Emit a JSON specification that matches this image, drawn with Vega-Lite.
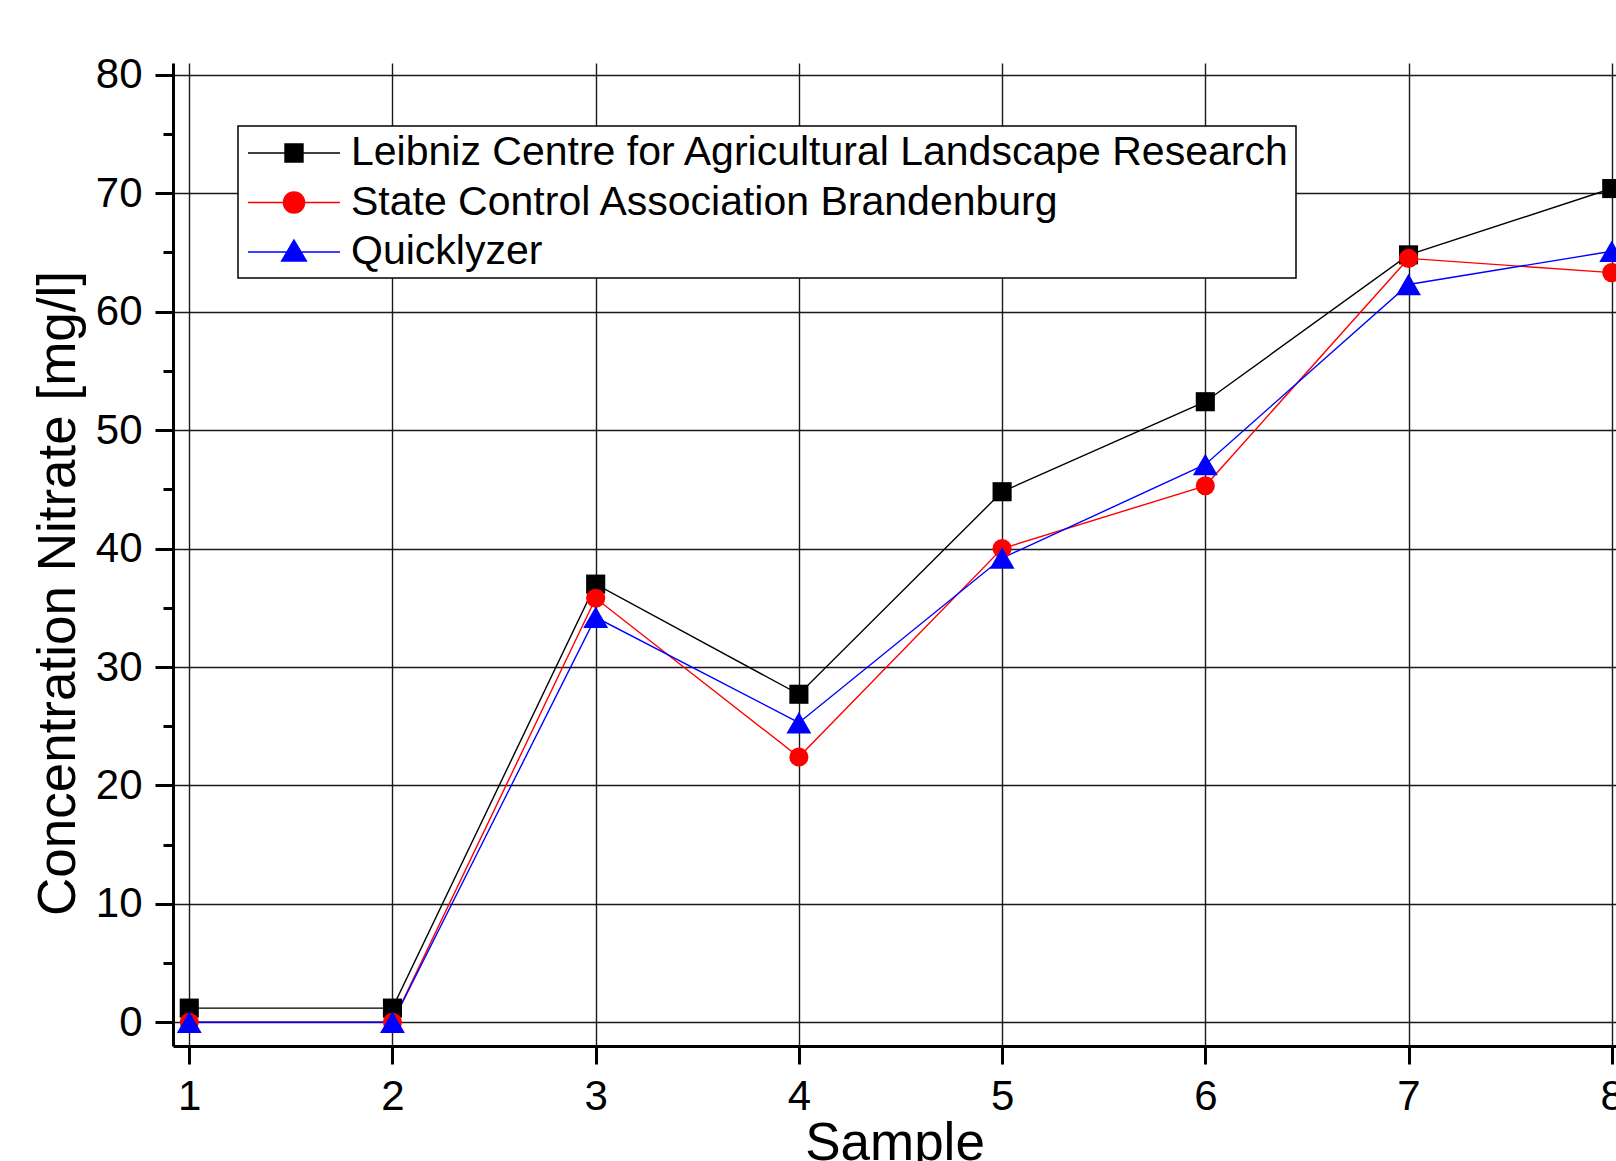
{
  "$schema": "https://vega.github.io/schema/vega-lite/v6.json",
  "width": 1443,
  "height": 983,
  "autosize": "none",
  "padding": {"left": 173, "top": 63, "right": 0, "bottom": 115},
  "background": "white",
  "config": {
    "font": "Liberation Sans",
    "view": {"stroke": null},
    "axis": {
      "domainColor": "black", "domainWidth": 3,
      "tickColor": "black", "tickWidth": 3, "tickSize": 18,
      "gridColor": "#1a1a1a", "gridWidth": 1.4,
      "labelFont": "Liberation Sans", "labelFontSize": 42, "labelColor": "black",
      "titleFont": "Liberation Sans", "titleFontSize": 53, "titleFontWeight": "normal", "titleColor": "black",
      "labelPadding": 12
    },
    "axisY": {"labelPadding": 13, "titlePadding": 10},
    "axisX": {"titlePadding": 0}
  },
  "data": {"values": [
    {"sample": 1, "series": "Leibniz Centre for Agricultural Landscape Research", "value": 1.2},
    {"sample": 2, "series": "Leibniz Centre for Agricultural Landscape Research", "value": 1.2},
    {"sample": 3, "series": "Leibniz Centre for Agricultural Landscape Research", "value": 37.0},
    {"sample": 4, "series": "Leibniz Centre for Agricultural Landscape Research", "value": 27.7},
    {"sample": 5, "series": "Leibniz Centre for Agricultural Landscape Research", "value": 44.8},
    {"sample": 6, "series": "Leibniz Centre for Agricultural Landscape Research", "value": 52.4},
    {"sample": 7, "series": "Leibniz Centre for Agricultural Landscape Research", "value": 64.8},
    {"sample": 8, "series": "Leibniz Centre for Agricultural Landscape Research", "value": 70.4},
    {"sample": 1, "series": "State Control Association Brandenburg", "value": 0},
    {"sample": 2, "series": "State Control Association Brandenburg", "value": 0},
    {"sample": 3, "series": "State Control Association Brandenburg", "value": 35.8},
    {"sample": 4, "series": "State Control Association Brandenburg", "value": 22.4},
    {"sample": 5, "series": "State Control Association Brandenburg", "value": 40.0},
    {"sample": 6, "series": "State Control Association Brandenburg", "value": 45.3},
    {"sample": 7, "series": "State Control Association Brandenburg", "value": 64.5},
    {"sample": 8, "series": "State Control Association Brandenburg", "value": 63.3},
    {"sample": 1, "series": "Quicklyzer", "value": 0},
    {"sample": 2, "series": "Quicklyzer", "value": 0},
    {"sample": 3, "series": "Quicklyzer", "value": 34.2},
    {"sample": 4, "series": "Quicklyzer", "value": 25.3},
    {"sample": 5, "series": "Quicklyzer", "value": 39.2},
    {"sample": 6, "series": "Quicklyzer", "value": 47.1},
    {"sample": 7, "series": "Quicklyzer", "value": 62.3},
    {"sample": 8, "series": "Quicklyzer", "value": 65.1}
  ]},
  "encoding": {
    "x": {
      "field": "sample", "type": "quantitative",
      "scale": {"domain": [0.92, 8.021], "nice": false, "zero": false},
      "axis": {"values": [1, 2, 3, 4, 5, 6, 7, 8], "format": "d", "title": "Sample"}
    },
    "y": {
      "field": "value", "type": "quantitative",
      "scale": {"domain": [-2, 81], "nice": false, "zero": false},
      "axis": {
        "values": [0, 5, 10, 15, 20, 25, 30, 35, 40, 45, 50, 55, 60, 65, 70, 75, 80],
        "title": "Concentration Nitrate [mg/l]",
        "titleY": 530,
        "labelExpr": "datum.value % 10 === 0 ? datum.label : ''",
        "gridOpacity": {"condition": {"test": "datum.value % 10 === 0", "value": 1}, "value": 0},
        "tickSize": {"condition": {"test": "datum.value % 10 === 0", "value": 18}, "value": 10}
      }
    },
    "color": {
      "field": "series", "type": "nominal",
      "scale": {"domain": ["Leibniz Centre for Agricultural Landscape Research", "State Control Association Brandenburg", "Quicklyzer"], "range": ["#000000", "#ff0000", "#0000ff"]},
      "legend": {
        "orient": "none", "legendX": 65, "legendY": 63,
        "title": null,
        "symbolSize": 1600,
        "symbolOffset": 29,
        "labelFontSize": 41, "labelFont": "Liberation Sans", "labelColor": "black",
        "labelOffset": 36, "labelLimit": 0,
        "rowPadding": 8.5, "padding": 6,
        "strokeColor": "black", "fillColor": "white",
        "encode": {
          "legend": {"update": {"strokeWidth": {"value": 1.5}}},
          "symbols": {"update": {
            "shape": {"signal": "datum.value === 'Leibniz Centre for Agricultural Landscape Research' ? 'M-2.3,0H2.3M-0.45,-0.45H0.45V0.45H-0.45Z' : datum.value === 'State Control Association Brandenburg' ? 'M-2.3,0H2.3M-0.53,0A0.53,0.53,0,1,0,0.53,0A0.53,0.53,0,1,0,-0.53,0Z' : 'M-2.3,0H2.3M0,-0.6L0.62,0.45L-0.62,0.45Z'"},
            "fill": {"signal": "scale('color', datum.value)"},
            "stroke": {"signal": "scale('color', datum.value)"},
            "strokeWidth": {"value": 1.4},
            "opacity": {"value": 1}
          }}
        }
      }
    }
  },
  "layer": [
    {
      "mark": {"type": "line", "strokeWidth": 1.4},
      "encoding": {}
    },
    {
      "mark": {"type": "point", "filled": true, "opacity": 1},
      "encoding": {
        "shape": {
          "condition": [
            {"test": "datum.series === 'Quicklyzer'", "value": "triangle-up"},
            {"test": "datum.series === 'State Control Association Brandenburg'", "value": "circle"}
          ],
          "value": "square"
        },
        "size": {
          "condition": {"test": "datum.series === 'Quicklyzer'", "value": 620},
          "value": 365
        }
      }
    }
  ]
}
